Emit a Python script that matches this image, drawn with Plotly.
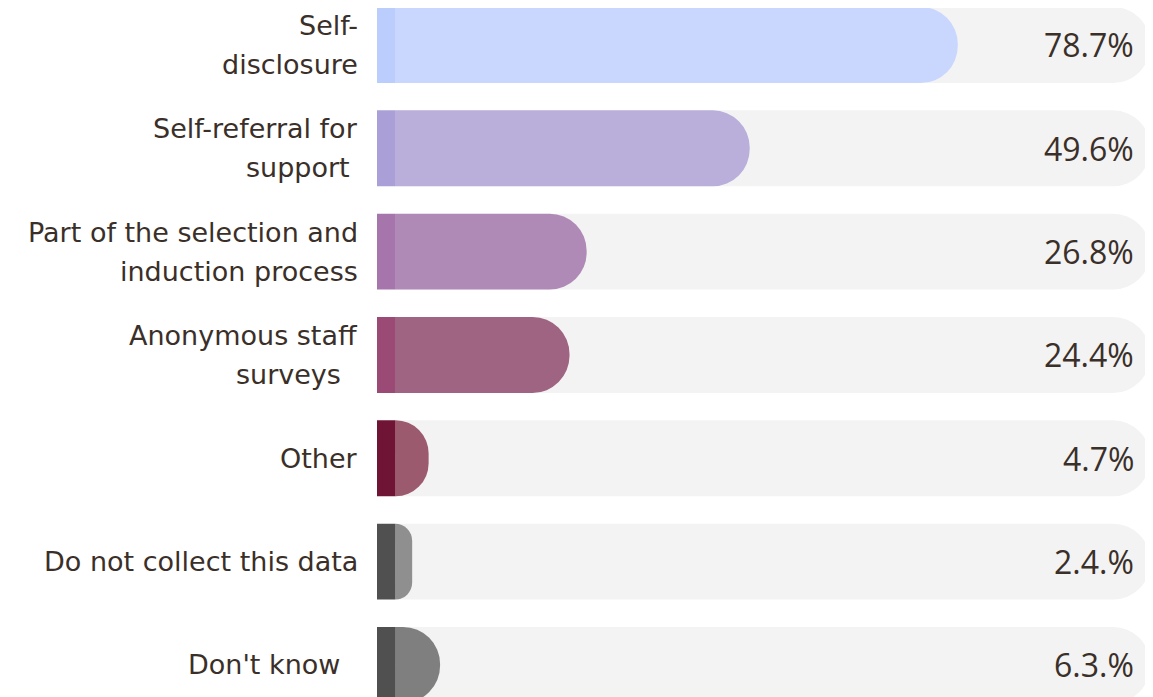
import plotly.graph_objects as go

# Data
categories = [
    "Self-<br>disclosure",
    "Self-referral for<br>support&nbsp;",
    "Part of the selection and<br>induction process",
    "Anonymous staff<br>surveys&nbsp;&nbsp;",
    "Other",
    "Do not collect this data",
    "Don't know&nbsp;&nbsp;",
]
values = [78.7, 49.6, 26.8, 24.4, 4.7, 2.4, 6.3]
value_labels = ["78.7%", "49.6%", "26.8%", "24.4%", "4.7%", "2.4.%", "6.3.%"]

bar_colors = ["#c9d7fe", "#baafdb", "#b08ab6", "#9e6482", "#9c5a6e", "#8f8f8f", "#7f7f7f"]
strip_colors = ["#bbcdfd", "#aaa0d7", "#a575ab", "#9a4a74", "#6f1434", "#505050", "#505050"]

STRIP = 2.52       # width of the dark cap at the left of each bar
TRACK_END = 105.6  # where the grey track stops
TEXT_COLOR = "#3a2f29"
BAR_W = 0.735
Y_RANGE = [6.31, -0.358]

ys = list(range(len(categories)))

fig = go.Figure()

# grey background track
fig.add_trace(go.Bar(
    y=ys, x=[TRACK_END] * len(ys),
    orientation="h", width=BAR_W,
    marker=dict(color="#f3f3f3", cornerradius="50%", line=dict(width=0)),
    hoverinfo="skip", showlegend=False,
))

# the value bars (own y axis so plotly rounds their ends)
fig.add_trace(go.Bar(
    y=ys, x=values, yaxis="y2",
    orientation="h", width=BAR_W,
    marker=dict(color=bar_colors, cornerradius="50%", line=dict(width=0)),
    customdata=value_labels,
    hovertemplate="%{customdata}<extra></extra>",
    showlegend=False,
))

# dark cap at the start of every bar
fig.add_trace(go.Bar(
    y=ys, x=[-STRIP] * len(ys), yaxis="y3",
    orientation="h", width=BAR_W,
    marker=dict(color=strip_colors, line=dict(width=0)),
    hoverinfo="skip", showlegend=False,
))

annotations = []
for i, (cat, lab) in enumerate(zip(categories, value_labels)):
    lines = cat.split("<br>")
    n = len(lines)
    for j, line in enumerate(lines):
        annotations.append(dict(
            x=-STRIP, y=i, xref="x", yref="y",
            text=line, showarrow=False,
            xanchor="right", yanchor="middle",
            xshift=-17, yshift=(n - 1) * 19.5 - j * 39,
            font=dict(family="DejaVu Sans", size=27, color=TEXT_COLOR),
        ))
    annotations.append(dict(
        x=TRACK_END, y=i, xref="x", yref="y",
        text=lab, showarrow=False,
        xanchor="right", yanchor="middle", xshift=-14,
        font=dict(family="Open Sans", size=32, color=TEXT_COLOR, weight=500),
    ))

# page body adds an 8px offset, so the figure is a bit smaller than the window
fig.update_layout(
    width=1145, height=689,
    margin=dict(l=369, r=0, t=0, b=0),
    barmode="overlay",
    plot_bgcolor="white", paper_bgcolor="white",
    xaxis=dict(range=[-STRIP, 106.0], visible=False, fixedrange=True),
    yaxis=dict(range=Y_RANGE, visible=False, fixedrange=True),
    yaxis2=dict(range=Y_RANGE, visible=False, fixedrange=True, overlaying="y"),
    yaxis3=dict(range=Y_RANGE, visible=False, fixedrange=True, overlaying="y"),
    annotations=annotations,
)

fig.write_html("out.html")
